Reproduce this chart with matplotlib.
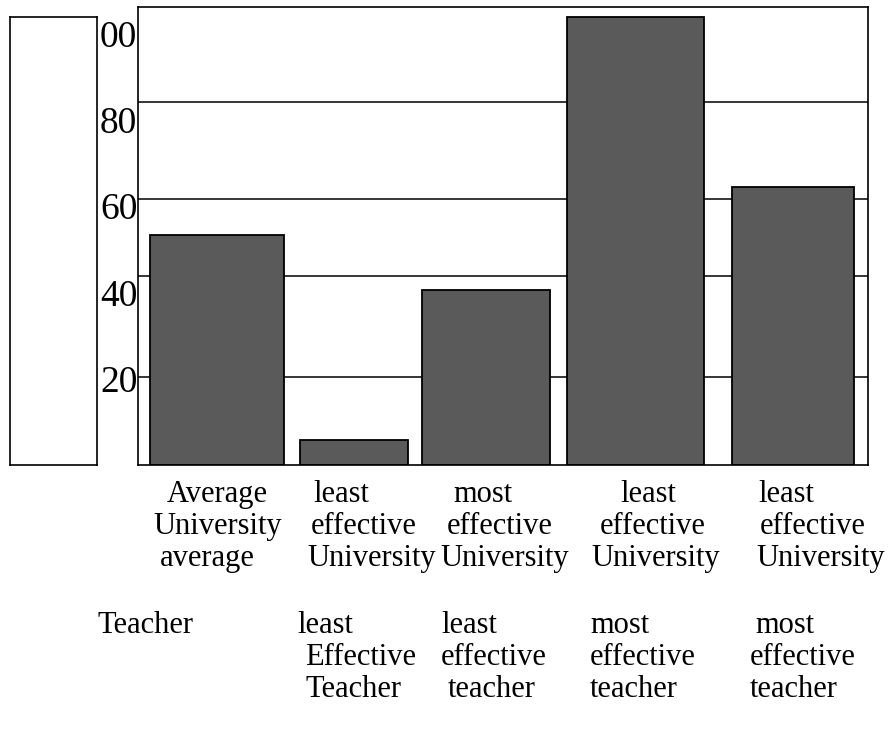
import numpy as np
import matplotlib
matplotlib.use("Agg")
import matplotlib.pyplot as plt

plt.rcParams['font.family'] = ['Liberation Serif', 'DejaVu Serif']

# data
bar_values = [53.2, 5.8, 40.6, 103.8, 64.3]
grid_levels = [20.4, 43.7, 61.7, 84.2]
y_ticks = [20, 40, 60, 80, 100]
y_ticklabels = ['20', '40', '60', '80', '00']

uni_labels = [["Average", "University", "average"],
              ["least", "effective", "University"],
              ["most", "effective", "University"],
              ["least", "effective", "University"],
              ["least", "effective", "University"]]
teacher_labels = [["Teacher"],
                  ["least", "Effective", "Teacher"],
                  ["least", "effective", "teacher"],
                  ["most", "effective", "teacher"],
                  ["most", "effective", "teacher"]]

# layout (pixels in the 889x744 image)
W, H = 889, 744
bar_left = [150, 300, 422, 567, 732]
bar_right = [284, 408, 550, 704, 854]
ax_l, ax_r, ax_t, ax_b = 138, 868, 7, 465
uni_x = [[167, 153, 160], [313, 311, 307], [453, 447, 440],
         [620, 600, 591], [758, 760, 756]]
uni_base = [502, 534, 566]
teacher_x = [[98], [297, 305, 305], [441, 441, 448],
             [590, 590, 590], [755, 750, 750]]
teacher_base = [633, 665, 697]

fig = plt.figure(figsize=(W / 100, H / 100), dpi=100)

# empty box on the left
box = fig.add_axes([10 / W, 1 - 465 / H, 87 / W, 448 / H])
box.set_xticks([])
box.set_yticks([])
for s in box.spines.values():
    s.set_linewidth(1.2)

ax = fig.add_axes([ax_l / W, 1 - ax_b / H, (ax_r - ax_l) / W, (ax_b - ax_t) / H])
ax.set_xlim(ax_l, ax_r)
ax.set_ylim(0, 106.1)

ax.hlines(grid_levels, ax_l, ax_r, colors='black', linewidth=1.1, zorder=1)

centers = [(l + r) / 2 for l, r in zip(bar_left, bar_right)]
widths = [r - l for l, r in zip(bar_left, bar_right)]
ax.bar(centers, bar_values, width=widths, color='#5a5a5a',
       edgecolor='black', linewidth=1.3, zorder=2)

ax.set_xticks([])
ax.set_yticks(y_ticks)
ax.set_yticklabels(y_ticklabels, fontsize=27)
ax.tick_params(axis='y', length=0, pad=0.5)
for s in ax.spines.values():
    s.set_linewidth(1.2)

for col, lines in enumerate(uni_labels):
    for i, txt in enumerate(lines):
        fig.text(uni_x[col][i] / W, 1 - uni_base[i] / H, txt,
                 fontsize=22, ha='left', va='baseline')
for col, lines in enumerate(teacher_labels):
    for i, txt in enumerate(lines):
        fig.text(teacher_x[col][i] / W, 1 - teacher_base[i] / H, txt,
                 fontsize=22, ha='left', va='baseline')

fig.savefig('out.png', dpi=100)
